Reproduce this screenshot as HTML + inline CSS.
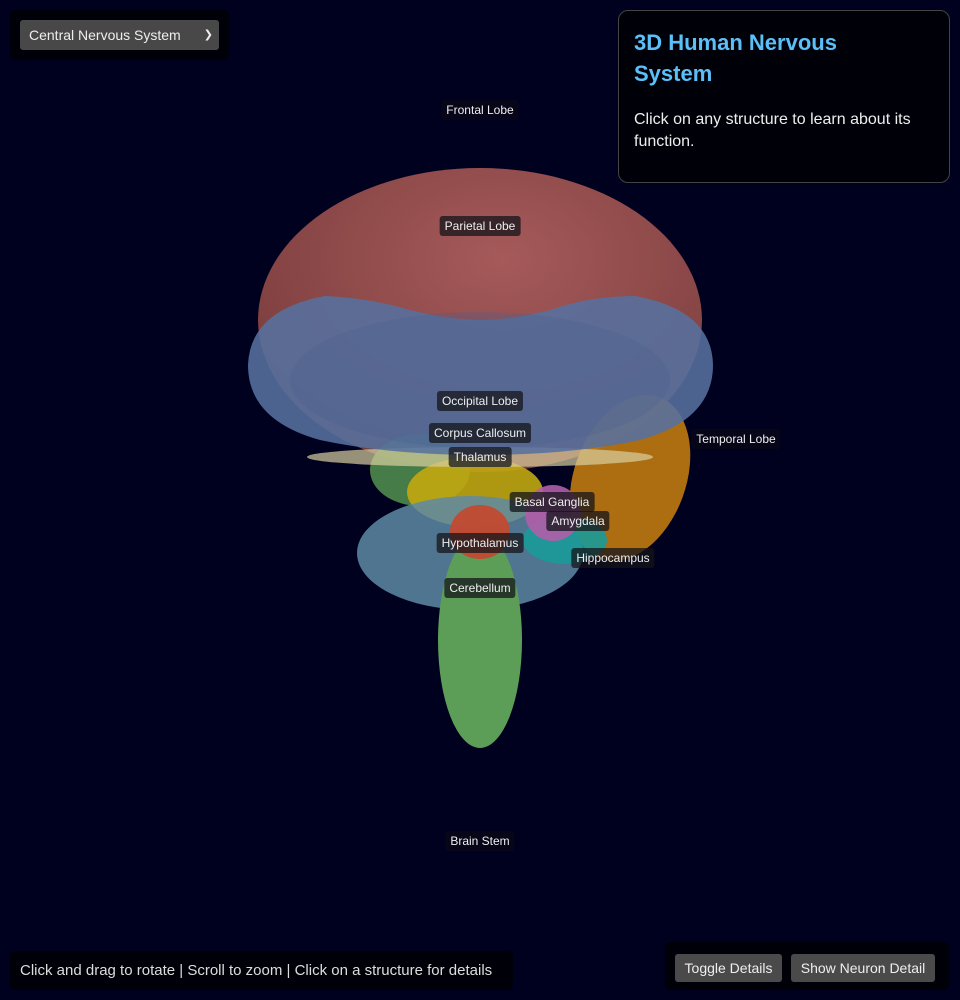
<!DOCTYPE html>
<html><head><meta charset="utf-8"><style>
*{margin:0;padding:0;box-sizing:border-box}
body{width:960px;height:1000px;background:#00001f;overflow:hidden;position:relative;font-family:"Liberation Sans","DejaVu Sans",sans-serif}
svg{position:absolute;left:0;top:0}
.lbl{position:absolute;transform:translateX(-50%);background:rgba(20,20,25,0.75);color:#eee;font-size:12px;padding:2px 5px;border-radius:3px;white-space:nowrap;line-height:16px}
.lbl.f{background:rgba(10,10,20,0.6)}
.selbox{position:absolute;left:10px;top:10px;width:219px;height:50px;background:#000008;border-radius:6px}
.sel{position:absolute;left:20px;top:20px;width:199px;height:30px;background:#484848;border-radius:3px;color:#eee;font-size:14px;line-height:30px;padding-left:9px}
.sel span{position:absolute;right:6px;top:0;font-size:11px}
.info{position:absolute;left:618px;top:10px;width:332px;height:173px;background:#000008;border:1px solid #444;border-radius:10px;padding:16px 15px}
.info h1{color:#5bc0f8;font-size:22px;line-height:31px;font-weight:bold;width:240px}
.info p{color:#eee;font-size:16px;line-height:22px;margin-top:20px}
.help{position:absolute;left:10px;top:951px;width:503px;height:39px;background:#000008;border-radius:6px;color:#ddd;font-size:15px;line-height:39px;padding-left:10px}
.btns{position:absolute;left:665px;top:942px;width:284px;height:48px;background:#000008;border-radius:6px}
.btn{position:absolute;top:12px;height:28px;background:#4a4a4a;color:#eee;font-size:14px;line-height:28px;border-radius:3px;text-align:center}
</style></head><body>
<svg width="960" height="1000" viewBox="0 0 960 1000">
<defs>
<radialGradient id="r1" cx="0.55" cy="0.3" r="0.7"><stop offset="0" stop-color="#a65a5a"/><stop offset="1" stop-color="#7a3c3c"/></radialGradient>
</defs>
<ellipse cx="480" cy="320" rx="222" ry="152" fill="url(#r1)"/>
<ellipse cx="420" cy="470" rx="50" ry="36" fill="#4e8a4c" opacity="0.9"/>
<ellipse cx="475" cy="492" rx="68" ry="35" fill="#c2a810" opacity="0.9"/>
<ellipse cx="630" cy="478" rx="56" ry="86" transform="rotate(20 630 478)" fill="#c07a10" opacity="0.9"/>
<ellipse cx="470" cy="553" rx="113" ry="57" fill="#5e8aa4" opacity="0.85"/>
<ellipse cx="565" cy="540" rx="42" ry="24" fill="#1a9a98" opacity="0.9"/>
<ellipse cx="553" cy="513" rx="28" ry="28" fill="#b05ea8" opacity="0.9"/>
<ellipse cx="480" cy="640" rx="42" ry="108" fill="#5c9e58"/>
<ellipse cx="480" cy="532" rx="30" ry="27" fill="#c24a30" opacity="0.95"/>
<ellipse cx="480" cy="457" rx="173" ry="10" fill="#d8cfa0" opacity="0.7"/>
<path d="M248 365 Q250 310 325 296 Q370 298 410 310 Q450 320 480 320 Q510 320 550 310 Q590 296 635 296 Q712 310 713 365 Q713 420 640 440 Q570 455 480 455 Q390 455 320 440 Q248 420 248 365Z" fill="#56719f" opacity="0.88"/>
<ellipse cx="480" cy="380" rx="190" ry="68" fill="#4a6090" opacity="0.3"/>
</svg>
<div class="lbl f" style="left:480px;top:100px">Frontal Lobe</div>
<div class="lbl" style="left:480px;top:216px">Parietal Lobe</div>
<div class="lbl" style="left:480px;top:391px">Occipital Lobe</div>
<div class="lbl" style="left:480px;top:423px">Corpus Callosum</div>
<div class="lbl" style="left:480px;top:447px">Thalamus</div>
<div class="lbl f" style="left:736px;top:429px">Temporal Lobe</div>
<div class="lbl" style="left:552px;top:492px">Basal Ganglia</div>
<div class="lbl" style="left:578px;top:511px">Amygdala</div>
<div class="lbl" style="left:480px;top:533px">Hypothalamus</div>
<div class="lbl" style="left:613px;top:548px">Hippocampus</div>
<div class="lbl" style="left:480px;top:578px">Cerebellum</div>
<div class="lbl f" style="left:480px;top:831px">Brain Stem</div>
<div class="selbox"></div>
<div class="sel">Central Nervous System<span>&#10095;</span></div>
<div class="info"><h1>3D Human Nervous System</h1><p>Click on any structure to learn about its function.</p></div>
<div class="help">Click and drag to rotate | Scroll to zoom | Click on a structure for details</div>
<div class="btns"><div class="btn" style="left:10px;width:107px">Toggle Details</div><div class="btn" style="left:126px;width:144px">Show Neuron Detail</div></div>
</body></html>
